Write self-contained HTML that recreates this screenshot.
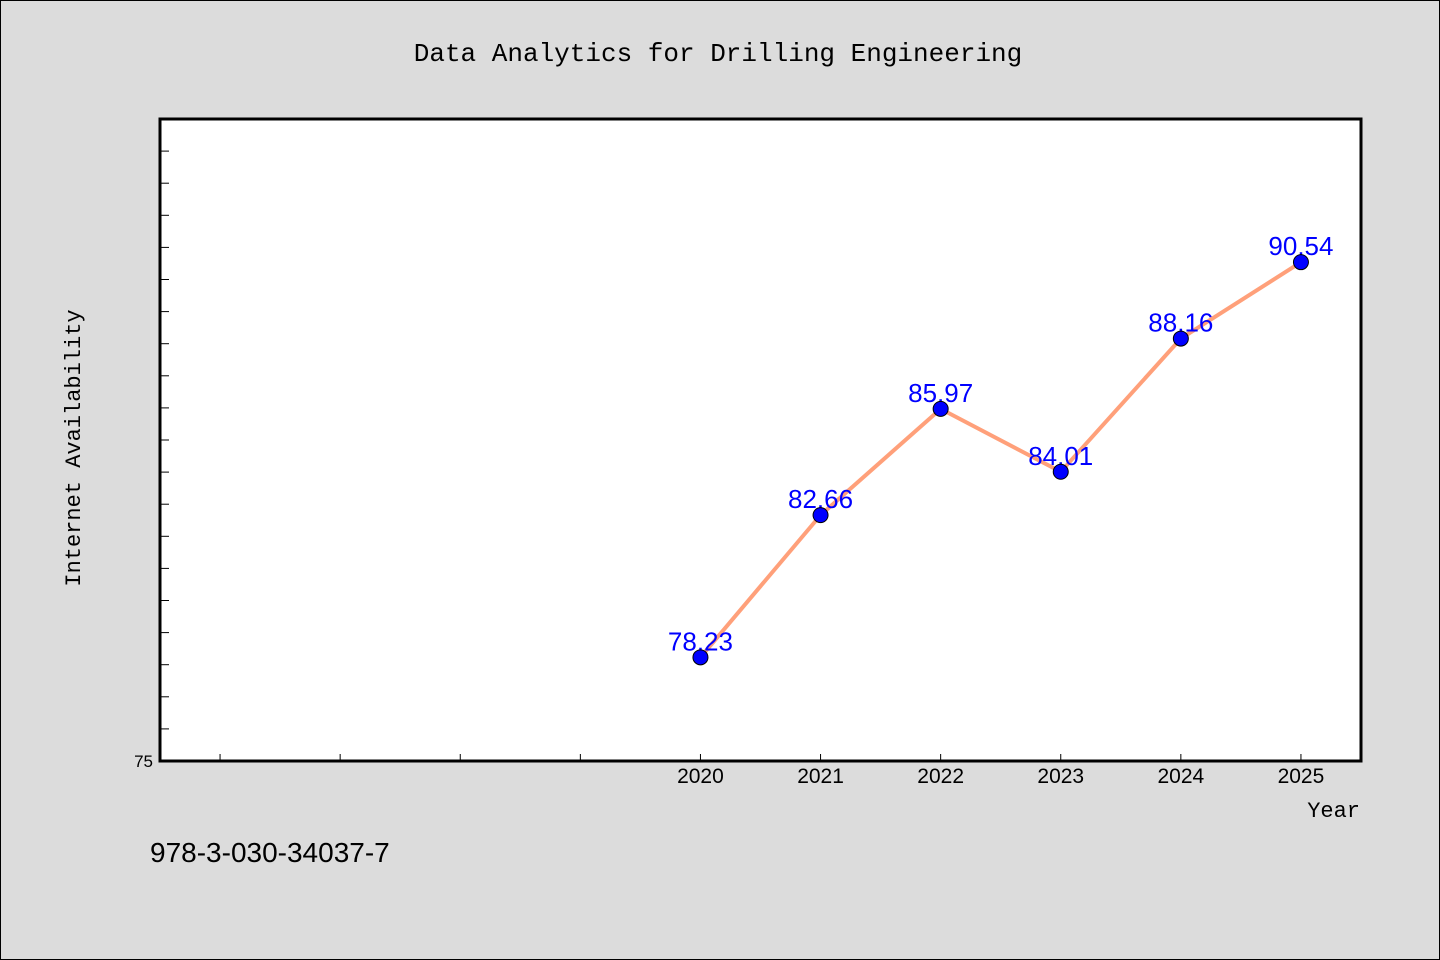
<!DOCTYPE html>
<html><head><meta charset="utf-8"><style>
body{margin:0;background:#dcdcdc;}
svg{display:block;}
</style></head><body>
<svg width="1440" height="960" xmlns="http://www.w3.org/2000/svg">
<rect x="0.5" y="0.5" width="1439" height="959" fill="#dcdcdc" stroke="#000"/>
<text x="718" y="61" text-anchor="middle" font-family="Liberation Mono, monospace" font-size="26" fill="#000">Data Analytics for Drilling Engineering</text>
<rect x="160" y="119" width="1201" height="642" fill="#fff"/>
<g id="ticks"></g>
<g id="series"></g>
<rect x="160" y="119" width="1201" height="642" fill="none" stroke="#000" stroke-width="3"/>
<text x="80" y="448" transform="rotate(-90 80 448)" text-anchor="middle" font-family="Liberation Mono, monospace" font-size="22" fill="#000">Internet Availability</text>
<text x="1360" y="817" text-anchor="end" font-family="Liberation Mono, monospace" font-size="22" fill="#000">Year</text>
<text x="150" y="862" font-family="Liberation Sans, sans-serif" font-size="28" fill="#000">978-3-030-34037-7</text>
</svg>
<script>
const years=[2020,2021,2022,2023,2024,2025];
const values=[78.23,82.66,85.97,84.01,88.16,90.54];
const labels=["78.23","82.66","85.97","84.01","88.16","90.54"];
const minorYears=[2016,2017,2018,2019];
const yMin=75,yMax=95;
const NS="http://www.w3.org/2000/svg";
function xs(v){return 160+(v-2015.5)*120.1;}
function ys(v){return 761-(v-yMin)/(yMax-yMin)*642;}
function mk(t,a,p){const e=document.createElementNS(NS,t);for(const k in a)e.setAttribute(k,a[k]);p.appendChild(e);return e;}
const tg=document.getElementById('ticks');
for(let v=yMin+1;v<yMax;v++){
 const l=mk('line',{x1:160,x2:169,y1:ys(v),y2:ys(v),stroke:'#000','stroke-width':1},tg);
 
 
}
const yl=mk('text',{x:153,y:767,'text-anchor':'end','font-family':'Liberation Sans, sans-serif','font-size':17,fill:'#000'},tg);
yl.textContent=String(yMin);


minorYears.concat(years).forEach(y=>{
 const l=mk('line',{x1:xs(y),x2:xs(y),y1:761,y2:754,stroke:'#000','stroke-width':1},tg);
 
 
});
years.forEach(y=>{
 const t=mk('text',{x:xs(y),y:783,'text-anchor':'middle','font-family':'Liberation Sans, sans-serif','font-size':21,fill:'#000'},tg);
 t.textContent=String(y);
 
 
});
const sg=document.getElementById('series');
const pl=mk('polyline',{points:years.map((y,i)=>xs(y)+','+ys(values[i])).join(' '),fill:'none',stroke:'#ffa07a','stroke-width':4},sg);


years.forEach((y,i)=>{
 const t=mk('text',{x:xs(y),y:ys(values[i])-7,'text-anchor':'middle','font-family':'Liberation Sans, sans-serif','font-size':26,fill:'#0000ff'},sg);
 t.textContent=labels[i];
 
 
});
years.forEach((y,i)=>{
 const c=mk('circle',{cx:xs(y),cy:ys(values[i]),r:7.5,fill:'#0000ff',stroke:'#000','stroke-width':1},sg);
 
 
});
</script>
</body></html>
